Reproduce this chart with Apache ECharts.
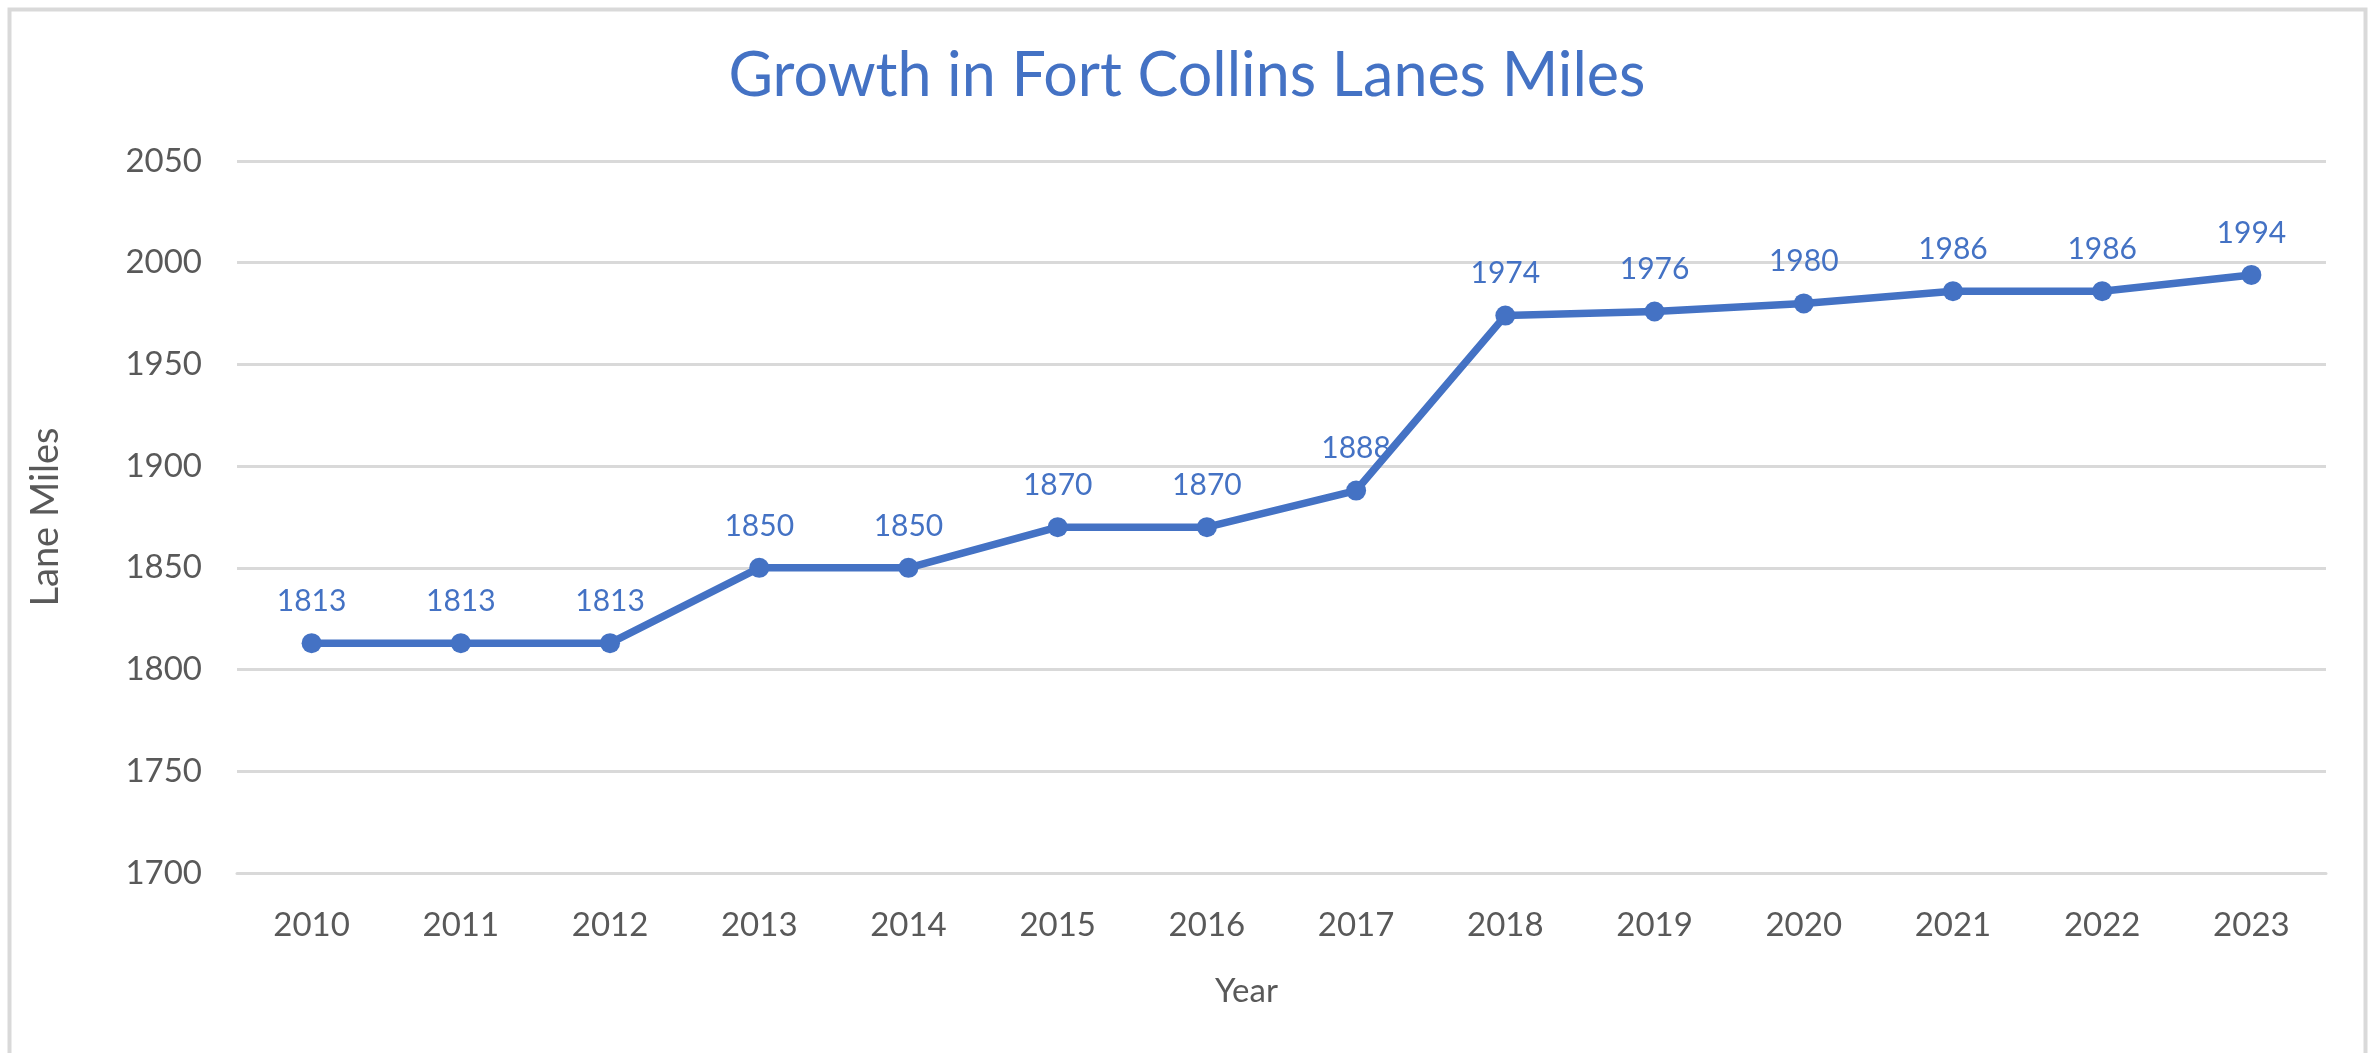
<!DOCTYPE html>
<html>
<head>
<meta charset="utf-8">
<title>Growth in Fort Collins Lanes Miles</title>
<script src="https://cdn.jsdelivr.net/npm/echarts@6/dist/echarts.min.js"></script>
<style>
  html, body { margin: 0; padding: 0; background: #fff; }
  #chart { width: 2374px; height: 1053px; }
</style>
</head>
<body>
<div id="chart"></div>
<script>
'use strict';

var years = ['2010', '2011', '2012', '2013', '2014', '2015', '2016', '2017', '2018', '2019', '2020', '2021', '2022', '2023'];
var laneMiles = [1813, 1813, 1813, 1850, 1850, 1870, 1870, 1888, 1974, 1976, 1980, 1986, 1986, 1994];
var yMin = 1700;
var yMax = 2050;
var yStep = 50;

var blue = '#4472C4';
var gray = '#595959';
var gridGray = '#D9D9D9';
var font = 'Lato';

var myChart = echarts.init(document.getElementById('chart'));

var option = {
  backgroundColor: '#fff',
  animation: false,
  textStyle: { fontFamily: font },
  title: {
    text: 'Growth in Fort Collins Lanes Miles',
    left: 'center',
    top: 41,
    textStyle: {
      color: blue,
      fontFamily: font,
      fontWeight: 'normal',
      fontSize: 61
    }
  },
  graphic: [{
    type: 'rect',
    shape: { x: 9.5, y: 9.5, width: 2356, height: 1100 },
    style: { fill: 'none', stroke: gridGray, lineWidth: 4 },
    silent: true
  }],
  grid: {
    left: 237,
    right: 48,
    top: 161,
    bottom: 180,
    containLabel: false
  },
  xAxis: {
    type: 'category',
    data: years,
    boundaryGap: true,
    name: 'Year',
    nameLocation: 'middle',
    nameGap: 102,
    nameTextStyle: {
      color: gray,
      fontFamily: font,
      fontSize: 33,
      padding: [0, 70, 0, 0]
    },
    axisLine: { show: true, lineStyle: { color: gridGray, width: 3 } },
    axisTick: { show: false },
    axisLabel: {
      color: gray,
      fontFamily: font,
      fontSize: 33,
      margin: 36
    }
  },
  yAxis: {
    type: 'value',
    min: yMin,
    max: yMax,
    interval: yStep,
    name: 'Lane Miles',
    nameLocation: 'middle',
    nameGap: 172,
    nameTextStyle: {
      color: gray,
      fontFamily: font,
      fontSize: 38
    },
    axisLine: { show: false },
    axisTick: { show: false },
    axisLabel: {
      color: gray,
      fontFamily: font,
      fontSize: 33,
      margin: 35,
      formatter: function (v) { return String(v); }
    },
    splitLine: { show: true, lineStyle: { color: gridGray, width: 3 } }
  },
  series: [{
    name: 'Lane Miles',
    type: 'line',
    data: laneMiles,
    symbol: 'circle',
    symbolSize: 20,
    itemStyle: { color: blue },
    lineStyle: { color: blue, width: 7.5 },
    label: {
      show: true,
      position: 'top',
      distance: 17,
      color: blue,
      fontFamily: font,
      fontSize: 30
    }
  }]
};

myChart.setOption(option);
</script>
</body>
</html>
